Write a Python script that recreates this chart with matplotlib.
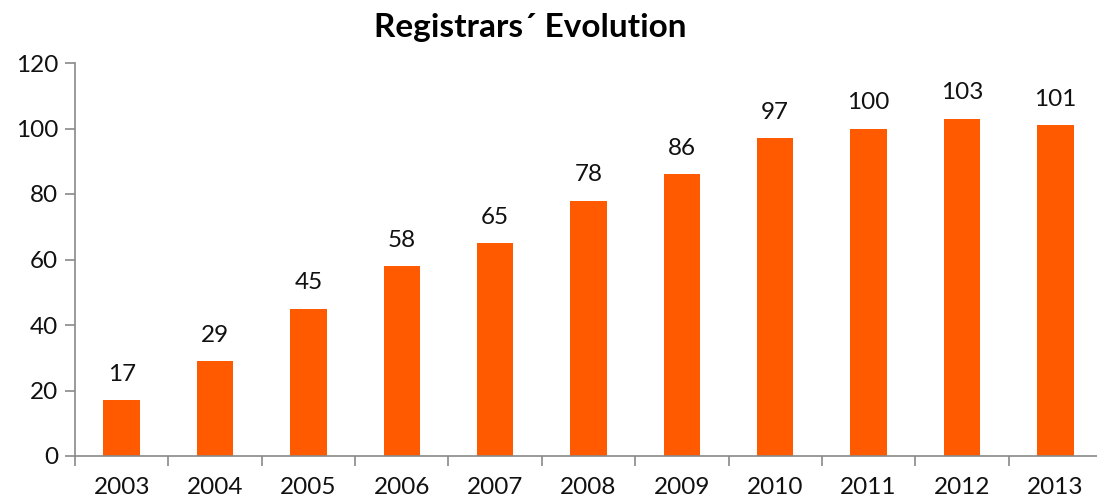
import matplotlib
matplotlib.use("Agg")
import matplotlib.pyplot as plt

years = ["2003", "2004", "2005", "2006", "2007", "2008", "2009", "2010", "2011", "2012", "2013"]
values = [17, 29, 45, 58, 65, 78, 86, 97, 100, 103, 101]
yticks = [0, 20, 40, 60, 80, 100, 120]
title = "Registrars\u00b4 Evolution"

plt.rcParams['font.family'] = ['Lato', 'DejaVu Sans']

fig = plt.figure(figsize=(10.97, 5.0), dpi=100)
ax = fig.add_axes([75/1097, 44/500, 1027/1097, 393/500])

x = list(range(len(years)))
ax.bar(x, values, width=0.39, color="#FF5A00", zorder=2)
for xi, v in zip(x, values):
    ax.annotate(str(v), (xi, v), xytext=(0, 11), textcoords="offset points",
                ha="center", va="bottom", fontsize=17.5, color="#111111")

ax.set_xlim(-0.5, len(years) - 0.5)
ax.set_ylim(0, 120)
ax.set_yticks(yticks)
ax.set_yticklabels([str(t) for t in yticks], fontsize=17.5, color="#111111")
ax.set_xticks(x)
ax.set_xticklabels(years, fontsize=17.5, color="#111111")
ax.set_xticks([i + 0.5 for i in range(-1, len(years))], minor=True)
ax.tick_params(axis="x", which="major", length=0, pad=15)
ax.tick_params(axis="x", which="minor", length=7, color="#898989", width=1.2, direction="out")
ax.tick_params(axis="y", length=7, color="#898989", width=1.2, direction="out", pad=5)

for s in ["top", "right"]:
    ax.spines[s].set_visible(False)
for s in ["left", "bottom"]:
    ax.spines[s].set_color("#898989")
    ax.spines[s].set_linewidth(1.2)

fig.text(530/1097, 1 - 28/500, title, ha="center", va="center", fontsize=24,
         fontweight="bold", color="#000000")

fig.savefig("out.png", dpi=100)
